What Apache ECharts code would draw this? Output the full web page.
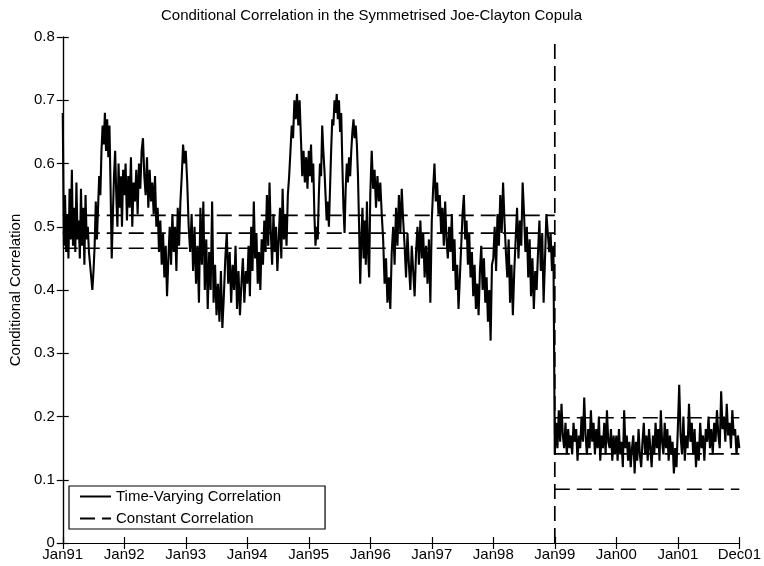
<!DOCTYPE html>
<html>
<head>
<meta charset="utf-8">
<script src="https://cdn.jsdelivr.net/npm/echarts@6/dist/echarts.min.js"></script>
<style>
  html, body { margin: 0; padding: 0; background: #fff; }
  #chart { width: 764px; height: 566px; }
</style>
</head>
<body>
<div id="chart"></div>
<script>
// ---- Data ----
const xTickLabels = ['Jan91','Jan92','Jan93','Jan94','Jan95','Jan96','Jan97','Jan98','Jan99','Jan00','Jan01','Dec01'];
const yTickLabels = ['0','0.1','0.2','0.3','0.4','0.5','0.6','0.7','0.8'];

// Time-varying correlation, one array per year (Jan91 ... Dec01)
const y1991 = [0.68,0.47,0.55,0.46,0.52,0.45,0.56,0.48,0.59,0.47,0.53,0.46,0.57,0.48,0.51,0.45,0.56,0.47,0.53,0.44,0.55,0.48,0.50,0.46,0.44,0.42,0.40,0.43,0.47,0.54,0.48,0.53,0.58,0.55,0.62,0.66,0.63,0.68,0.62,0.67,0.61,0.66,0.56,0.45,0.52,0.58,0.62,0.55,0.50,0.60,0.53,0.58,0.50,0.59];
const y1992 = [0.55,0.60,0.51,0.58,0.53,0.61,0.50,0.57,0.54,0.59,0.52,0.60,0.56,0.62,0.64,0.58,0.55,0.61,0.53,0.59,0.54,0.57,0.52,0.58,0.50,0.53,0.46,0.51,0.44,0.49,0.42,0.47,0.39,0.45,0.50,0.44,0.52,0.46,0.50,0.43,0.53,0.47,0.54,0.58,0.63,0.60];
const y1993 = [0.62,0.57,0.50,0.46,0.52,0.43,0.50,0.41,0.47,0.38,0.53,0.44,0.54,0.40,0.48,0.37,0.46,0.40,0.54,0.38,0.44,0.36,0.41,0.35,0.43,0.34,0.39,0.45,0.49,0.41,0.46,0.38,0.44,0.40,0.47,0.37,0.43,0.36,0.41,0.45,0.38,0.43];
const y1994 = [0.41,0.47,0.39,0.50,0.43,0.54,0.45,0.49,0.41,0.46,0.40,0.48,0.44,0.51,0.46,0.55,0.47,0.57,0.49,0.44,0.52,0.46,0.50,0.43,0.48,0.53,0.45,0.56,0.48,0.52,0.47,0.55,0.58,0.62,0.66,0.64,0.70,0.67,0.71,0.66,0.70,0.64,0.58,0.62,0.57,0.61,0.56];
const y1995 = [0.62,0.58,0.63,0.57,0.60,0.52,0.47,0.50,0.48,0.55,0.60,0.58,0.66,0.62,0.59,0.55,0.51,0.54,0.50,0.56,0.62,0.67,0.66,0.70,0.68,0.71,0.67,0.70,0.65,0.68,0.60,0.53,0.49,0.56,0.60,0.57,0.61,0.58,0.62,0.65,0.67,0.64,0.66,0.63,0.58,0.50,0.41,0.48,0.53,0.45,0.51,0.44,0.54,0.46,0.42];
const y1996 = [0.55,0.62,0.56,0.59,0.53,0.58,0.54,0.57,0.52,0.48,0.41,0.45,0.38,0.42,0.37,0.46,0.50,0.44,0.53,0.47,0.55,0.49,0.56,0.51,0.47,0.42,0.49,0.44,0.40,0.47,0.43,0.39,0.46,0.50,0.44,0.51,0.45,0.49,0.42,0.47,0.41,0.48,0.38];
const y1997 = [0.51,0.56,0.60,0.54,0.57,0.52,0.55,0.49,0.53,0.47,0.54,0.48,0.45,0.50,0.46,0.52,0.43,0.48,0.40,0.44,0.37,0.42,0.47,0.52,0.55,0.48,0.51,0.44,0.49,0.42,0.46,0.39,0.44,0.37,0.41,0.36,0.43,0.47,0.40,0.45,0.38,0.42,0.35,0.40,0.32,0.44];
const y1998 = [0.45,0.50,0.43,0.52,0.47,0.55,0.49,0.57,0.51,0.46,0.42,0.48,0.38,0.44,0.36,0.43,0.48,0.53,0.45,0.51,0.47,0.57,0.52,0.46,0.50,0.42,0.48,0.39,0.45,0.37,0.43,0.40,0.46,0.51,0.43,0.49,0.38,0.45,0.52,0.49,0.46,0.49,0.43,0.47];
const y1999 = [0.14,0.19,0.15,0.21,0.16,0.22,0.17,0.15,0.19,0.14,0.18,0.15,0.17,0.14,0.19,0.16,0.18,0.13,0.17,0.15,0.20,0.16,0.23,0.17,0.14,0.18,0.15,0.21,0.16,0.19,0.14,0.18,0.15,0.20,0.13,0.17,0.15,0.19,0.14,0.21,0.16,0.15,0.18,0.13,0.17,0.14];
const y2000 = [0.17,0.13,0.18,0.14,0.16,0.12,0.21,0.15,0.17,0.13,0.16,0.12,0.15,0.17,0.11,0.16,0.13,0.18,0.14,0.12,0.16,0.19,0.14,0.17,0.13,0.18,0.15,0.12,0.17,0.14,0.19,0.15,0.18,0.13,0.21,0.16,0.14,0.19,0.15,0.18,0.13,0.17,0.14,0.16,0.11,0.15,0.12];
const y2001 = [0.18,0.25,0.17,0.14,0.20,0.13,0.17,0.15,0.22,0.16,0.19,0.14,0.18,0.12,0.16,0.13,0.19,0.15,0.17,0.13,0.18,0.16,0.20,0.15,0.18,0.14,0.19,0.16,0.21,0.17,0.15,0.24,0.18,0.20,0.16,0.22,0.17,0.19,0.15,0.21,0.17,0.18,0.14,0.17,0.15];

// Constant correlation estimates (with bounds), before and after the Jan99 break
const constBefore = [0.518, 0.490, 0.466];
const constAfter = [0.198, 0.141, 0.085];
const breakIndex = 8;   // position of Jan99 among the tick labels
const endIndex = 11;    // position of Dec01

// ---- Build series from the arrays ----
const yearArrays = [y1991,y1992,y1993,y1994,y1995,y1996,y1997,y1998,y1999,y2000,y2001];
const tvData = [];
yearArrays.forEach((arr, k) => {
  const n = arr.length;
  const isLast = k === yearArrays.length - 1;
  arr.forEach((v, j) => tvData.push([k + j / (isLast ? n - 1 : n), v]));
});

const FONT = "'Liberation Sans', Arial, Helvetica, sans-serif";
const DASH = [15, 7];
const LW = 2.1;
const LWD = 1.7;

const series = [{
  name: 'Time-Varying Correlation',
  type: 'line',
  data: tvData,
  symbol: 'none',
  lineStyle: { color: '#000', width: LW, join: 'miter', miterLimit: 3 },
  itemStyle: { color: '#000' },
  z: 2
}];
constBefore.forEach(c => series.push({
  name: 'Constant Correlation', type: 'line', symbol: 'none',
  data: [[0, c], [breakIndex, c]],
  lineStyle: { color: '#000', width: LWD, type: DASH }, itemStyle: { color: '#000' }, z: 3
}));
constAfter.forEach(c => series.push({
  name: 'Constant Correlation', type: 'line', symbol: 'none',
  data: [[breakIndex, c], [endIndex, c]],
  lineStyle: { color: '#000', width: LWD, type: DASH }, itemStyle: { color: '#000' }, z: 3
}));
series.push({
  name: 'Constant Correlation', type: 'line', symbol: 'none',
  data: [[breakIndex, 0], [breakIndex, 0.8]],
  lineStyle: { color: '#000', width: LWD, type: DASH }, itemStyle: { color: '#000' }, z: 3
});

const axisCommonX = {
  type: 'value', min: 0, max: endIndex, interval: 1,
  axisLine: { show: true, lineStyle: { color: '#000', width: 1.2 } },
  axisTick: { show: true, inside: true, length: 6, lineStyle: { color: '#000', width: 1.2 } },
  splitLine: { show: false }
};
const axisCommonY = {
  type: 'value', min: 0, max: 0.8, interval: 0.1,
  axisLine: { show: true, lineStyle: { color: '#000', width: 1.2 } },
  axisTick: { show: true, inside: true, length: 6, lineStyle: { color: '#000', width: 1.2 } },
  splitLine: { show: false }
};

const option = {
  animation: false,
  backgroundColor: '#fff',
  title: {
    text: 'Conditional Correlation in the Symmetrised Joe-Clayton Copula',
    left: 156, top: 3,
    textStyle: { fontFamily: FONT, fontSize: 15, fontWeight: 'normal', color: '#000' }
  },
  grid: { left: 61, right: 16, top: 37, bottom: 23, containLabel: false },
  legend: {
    data: ['Time-Varying Correlation', 'Constant Correlation'],
    orient: 'vertical', left: 69, top: 486,
    itemWidth: 31, itemHeight: 14, itemGap: 7,
    padding: [3, 44, 3, 10],
    borderColor: '#000', borderWidth: 1.2, backgroundColor: '#fff',
    selectedMode: false,
    itemStyle: { opacity: 0, borderWidth: 0 },
    textStyle: { fontFamily: FONT, fontSize: 15, color: '#000' }
  },
  xAxis: [
    Object.assign({}, axisCommonX, {
      position: 'bottom',
      axisLabel: { show: true, margin: 4, color: '#000', fontFamily: FONT, fontSize: 15,
        formatter: v => xTickLabels[Math.round(v)] }
    }),
    Object.assign({}, axisCommonX, { position: 'top', axisLabel: { show: false } })
  ],
  yAxis: [
    Object.assign({}, axisCommonY, {
      position: 'left',
      name: 'Conditional Correlation', nameLocation: 'middle', nameGap: 32,
      nameTextStyle: { fontFamily: FONT, fontSize: 15, color: '#000' },
      axisLabel: { show: true, margin: 8, color: '#000', fontFamily: FONT, fontSize: 15,
        formatter: v => yTickLabels[Math.round(v * 10)] }
    }),
    Object.assign({}, axisCommonY, { position: 'right', axisLabel: { show: false } })
  ],
  series: series
};

const chart = echarts.init(document.getElementById('chart'), null, { renderer: 'canvas' });
chart.setOption(option);
</script>
</body>
</html>
